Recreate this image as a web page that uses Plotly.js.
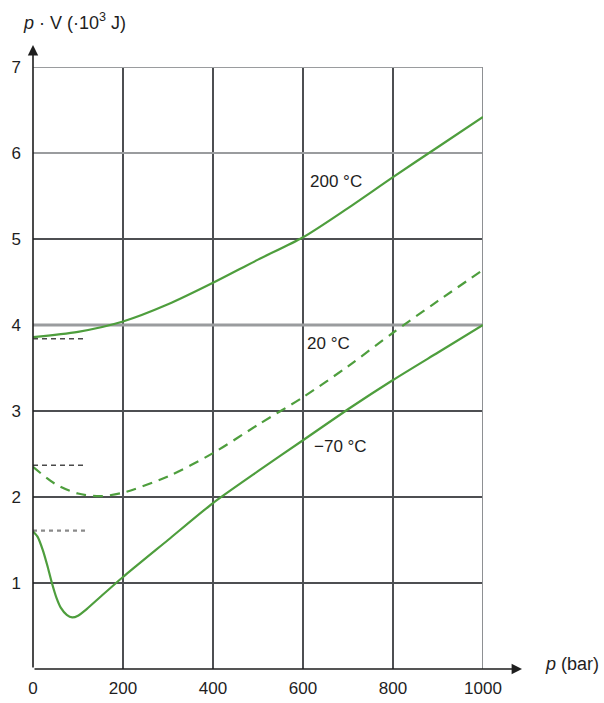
<!DOCTYPE html>
<html>
<head>
<meta charset="utf-8">
<script src="https://cdn.plot.ly/plotly-3.0.1.min.js"></script>
<style>
  html, body { margin: 0; padding: 0; background: #ffffff; }
  #chart { width: 604px; height: 703px; }
</style>
</head>
<body>
<div id="chart"></div>
<script>
// Pressure in bar and the product p·V (in 10^3 J) for one mole of gas at three temperatures
var p200 = [0, 100, 200, 300, 400, 500, 600, 700, 800, 900, 1000];
var pv200 = [3.86, 3.92, 4.04, 4.24, 4.49, 4.76, 5.02, 5.36, 5.72, 6.07, 6.42];

var p20 = [0, 50, 100, 150, 200, 300, 400, 500, 600, 700, 800, 900, 1000];
var pv20 = [2.35, 2.15, 2.04, 2.01, 2.05, 2.24, 2.51, 2.84, 3.16, 3.52, 3.91, 4.28, 4.64];

var pM70 = [0, 10, 22, 32, 42, 52, 62, 75, 87, 100, 120, 150, 200, 300, 400, 500, 600, 700, 800, 900, 1000];
var pvM70 = [1.6, 1.54, 1.38, 1.2, 1.0, 0.83, 0.71, 0.63, 0.6, 0.62, 0.7, 0.84, 1.07, 1.5, 1.93, 2.3, 2.66, 3.02, 3.36, 3.68, 4.0];

// Ideal-gas limits (p -> 0), drawn as short dashed stubs near the axis
var limitP = [0, 120];
var limitPV = [3.84, 2.37, 1.61];

var curveLabels = ['200 °C', '20 °C', '\u221270 °C'];
var curveLabelP = [611, 604, 620];
var curveLabelPV = [5.67, 3.78, 2.59];

var xTicks = [0, 200, 400, 600, 800, 1000];
var yTicks = [1, 2, 3, 4, 5, 6, 7];

var green = '#4e9e3d';
var ink = '#1e1e1e';
var gridDark = '#4d4f52';
var FONT = 'Liberation Sans, Arial, Helvetica, sans-serif';

var traces = [];

// limit stubs
var stubStyles = [
  {color: '#4a4a4a', width: 1.6, dash: '5px,4px'},
  {color: '#4a4a4a', width: 1.6, dash: '5px,4px'},
  {color: '#8a8a8a', width: 2.2, dash: '4px,4px'}
];
limitPV.forEach(function (v, i) {
  traces.push({
    x: limitP, y: [v, v], type: 'scatter', mode: 'lines',
    line: stubStyles[i], hoverinfo: 'skip', showlegend: false, cliponaxis: false
  });
});

traces.push({
  x: p200, y: pv200, type: 'scatter', mode: 'lines',
  line: {color: green, width: 2.2, shape: 'spline', smoothing: 0.8},
  showlegend: false, cliponaxis: false
});
traces.push({
  x: p20, y: pv20, type: 'scatter', mode: 'lines',
  line: {color: green, width: 2.2, shape: 'spline', smoothing: 0.8, dash: '10px,7px'},
  showlegend: false, cliponaxis: false
});
traces.push({
  x: pM70, y: pvM70, type: 'scatter', mode: 'lines',
  line: {color: green, width: 2.2, shape: 'spline', smoothing: 0.6},
  showlegend: false, cliponaxis: false
});

var annotations = [];

curveLabels.forEach(function (t, i) {
  annotations.push({
    x: curveLabelP[i], y: curveLabelPV[i], xref: 'x', yref: 'y',
    text: t, showarrow: false, xanchor: 'left', yanchor: 'middle',
    font: {family: FONT, size: 17, color: ink}
  });
});

// axis arrows (drawn in paper space so they can run past the frame)
annotations.push({
  x: (522 - 33) / 450, y: 0, xref: 'paper', yref: 'paper',
  ax: -489, ay: 0, axref: 'pixel', ayref: 'pixel',
  showarrow: true, arrowhead: 2, arrowsize: 1.3, arrowwidth: 1.6, arrowcolor: ink, text: ''
});
annotations.push({
  x: 0, y: (669 - 45) / 602, xref: 'paper', yref: 'paper',
  ax: 0, ay: 624, axref: 'pixel', ayref: 'pixel',
  showarrow: true, arrowhead: 2, arrowsize: 1.3, arrowwidth: 1.6, arrowcolor: ink, text: ''
});

// axis titles
annotations.push({
  x: (21 - 33) / 450, y: (669 - 22) / 602, xref: 'paper', yref: 'paper',
  text: '<i>p</i> · V (·10<sup>3</sup> J)', showarrow: false,
  xanchor: 'left', yanchor: 'middle',
  font: {family: FONT, size: 18, color: ink}
});
annotations.push({
  x: (543 - 33) / 450, y: (669 - 664) / 602, xref: 'paper', yref: 'paper',
  text: '<i>p</i> (bar)', showarrow: false,
  xanchor: 'left', yanchor: 'middle',
  font: {family: FONT, size: 18, color: ink}
});

// lighter rules along a few grid lines and the right frame
var shapes = [];
[4, 6, 7].forEach(function (v) {
  shapes.push({
    type: 'line', xref: 'x', yref: 'y', x0: 0, x1: 1000, y0: v, y1: v,
    line: {color: '#9a9c9e', width: v === 4 ? 2.8 : 2}, layer: 'between'
  });
});
shapes.push({
  type: 'line', xref: 'x', yref: 'y', x0: 1000, x1: 1000, y0: 0, y1: 7,
  line: {color: '#8e9093', width: 2}, layer: 'between'
});

var layout = {
  width: 604, height: 703,
  margin: {l: 33, r: 121, t: 67, b: 34, pad: 0},
  paper_bgcolor: '#ffffff', plot_bgcolor: '#ffffff',
  showlegend: false,
  font: {family: FONT, color: ink},
  xaxis: {
    range: [0, 1000], tickvals: xTicks, ticktext: xTicks.map(String),
    showgrid: true, gridcolor: gridDark, gridwidth: 1.3,
    zeroline: false, showline: false, ticks: '',
    tickfont: {family: FONT, size: 17, color: ink},
    ticklabelstandoff: 7, fixedrange: true
  },
  yaxis: {
    range: [0, 7], tickvals: yTicks, ticktext: yTicks.map(String),
    showgrid: true, gridcolor: gridDark, gridwidth: 1.3,
    zeroline: false, showline: false, ticks: '',
    tickfont: {family: FONT, size: 17, color: ink},
    ticklabelstandoff: 11, fixedrange: true
  },
  shapes: shapes,
  annotations: annotations
};

Plotly.newPlot('chart', traces, layout, {staticPlot: true, displayModeBar: false});
</script>
</body>
</html>
